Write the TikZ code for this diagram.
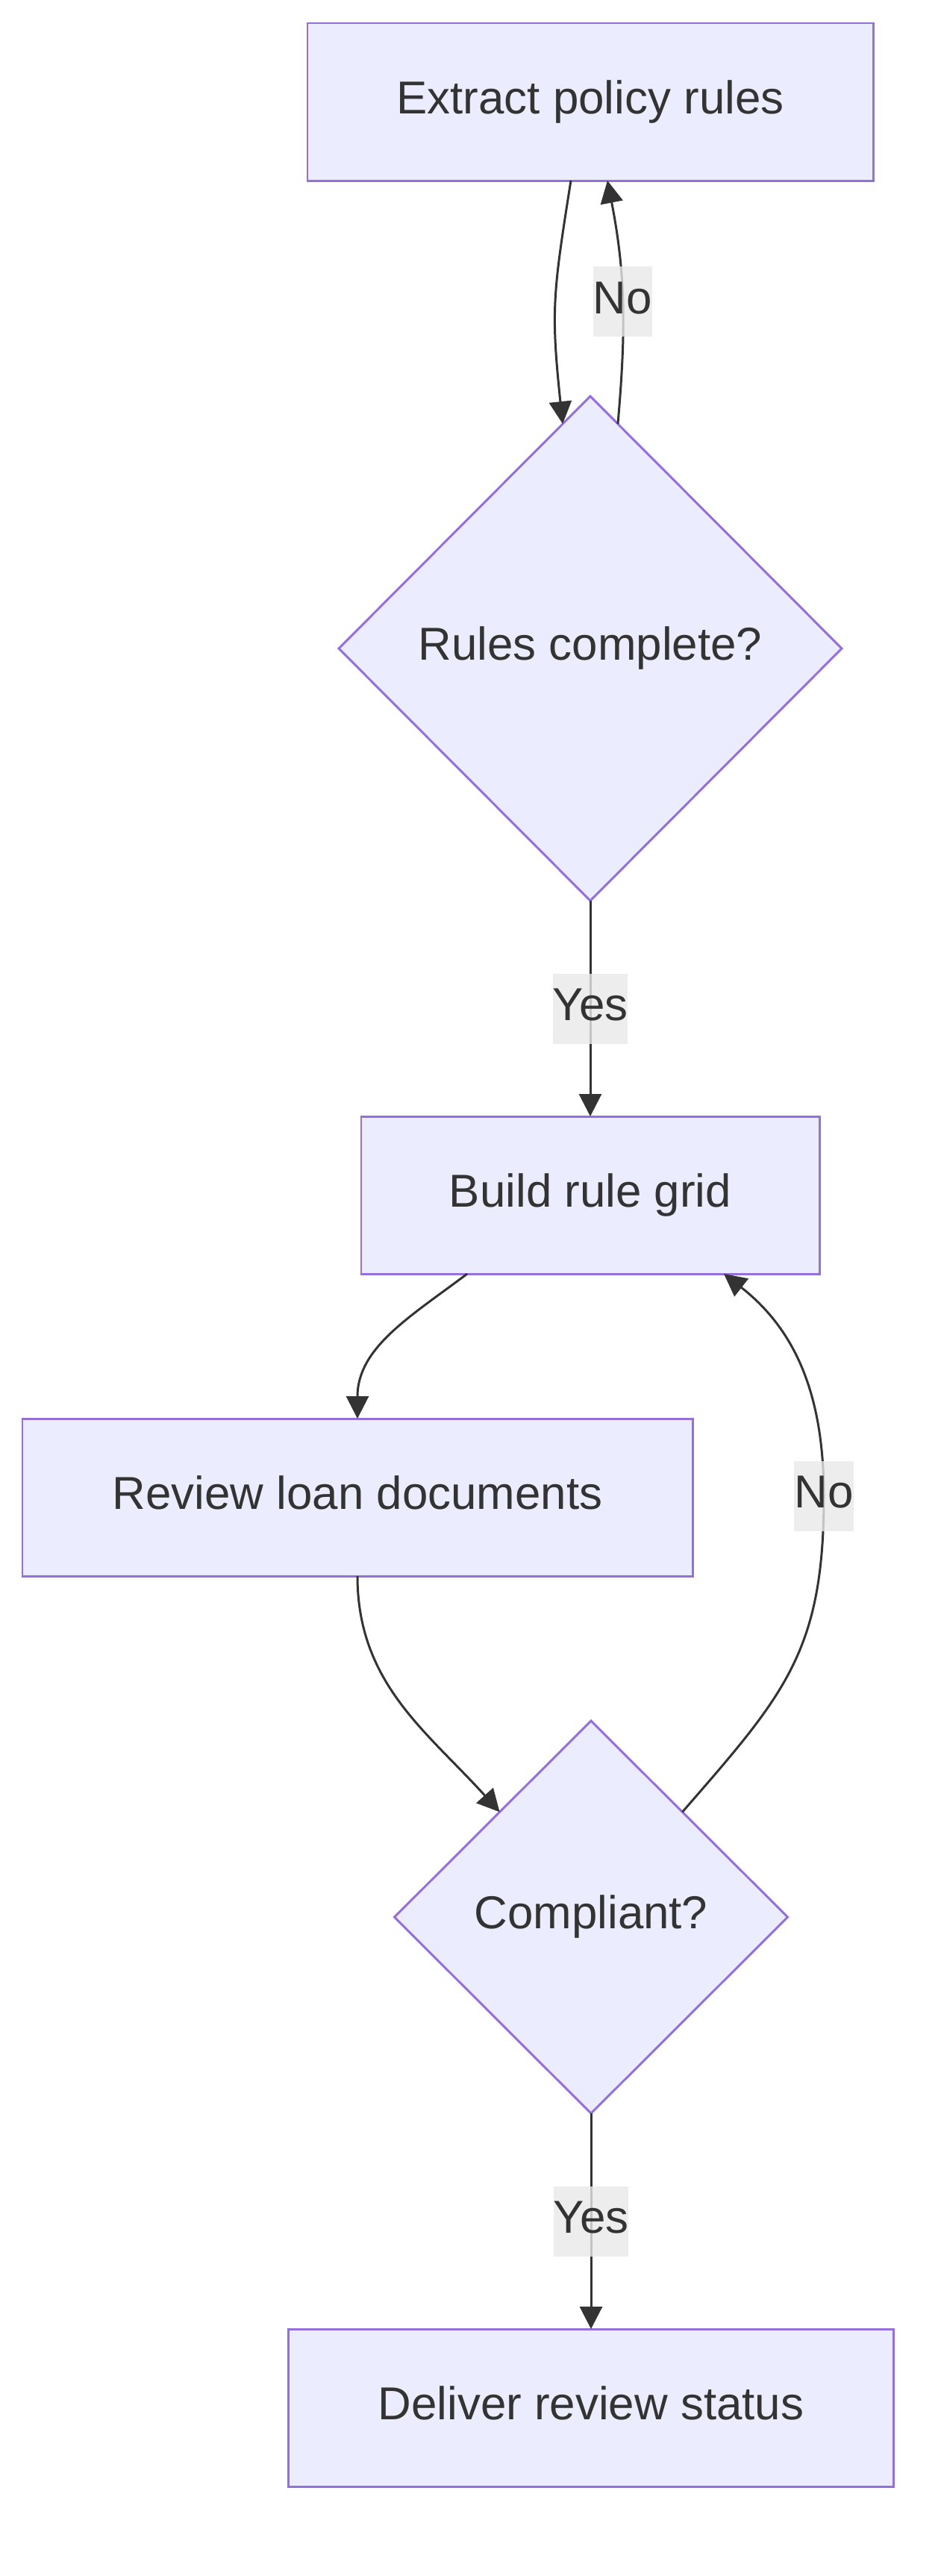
\documentclass[tikz,border=0pt]{standalone}
\usepackage{fontspec}
\setmainfont{Liberation Sans}
\usepackage{xcolor}
\usepackage{tikz}
\usetikzlibrary{arrows.meta, positioning, shapes.geometric}

\definecolor{nodefill}{HTML}{ECECFF}
\definecolor{nodeline}{HTML}{9370DB}
\definecolor{inkgray}{HTML}{333333}
\definecolor{labelgray}{HTML}{E8E8E8}

\begin{document}
\begin{tikzpicture}[
        font=\fontsize{17.6pt}{21pt}\selectfont,
        block/.style={rectangle, draw=nodeline, fill=nodefill, line width=0.85pt, outer sep=0pt, text=inkgray, text height=12.7pt, text depth=3.7pt, minimum height=2.11cm, align=center},
        decision/.style={diamond, draw=nodeline, fill=nodefill, line width=0.85pt, outer sep=0pt, text=inkgray, text height=12.7pt, text depth=3.7pt, inner sep=0pt, shape aspect=1, align=center},
        arrow/.style={-{Triangle[length=3mm, width=3mm]}, line width=0.85pt, draw=inkgray},
        lbl/.style={fill=labelgray, fill opacity=0.8, text opacity=1, text=inkgray, text height=12.7pt, text depth=3.7pt, inner sep=0pt, minimum height=0.94cm}
    ]
        \useasboundingbox (0,0) rectangle (12.6,-34.52);

        % Rules
        \node[block, minimum width=7.58cm] (extract) at (7.91,-1.365) {Extract policy rules};
        \node[decision, minimum width=6.74cm, minimum height=6.76cm, below=2.89cm of extract] (rulesok) {Rules complete?};
        \node[block, minimum width=6.14cm, below=2.89cm of rulesok] (grid) {Build rule grid};

        % Review
        \node[block, minimum width=8.98cm, below=1.94cm of grid, xshift=-3.12cm] (review) {Review loan documents};
        \node[decision, minimum width=5.27cm, minimum height=5.26cm, below=1.94cm of review, xshift=3.13cm] (compliant) {Compliant?};
        \node[block, minimum width=8.11cm, below=2.89cm of compliant] (deliver) {Deliver review status};
        \coordinate (nobend) at (11.04,-20.05);

        % Links
        \draw[arrow] ([xshift=-0.26cm]extract.south) to[out=-99, in=96, looseness=1.2] (rulesok.97);
        \draw[arrow] (rulesok.83) to[out=85, in=-79] node[lbl] {No} ([xshift=0.23cm]extract.south);
        \draw[arrow] (rulesok.south) -- node[lbl] {Yes} (grid.north);
        \draw[arrow] ([xshift=-1.65cm]grid.south) to[out=-143, in=90] (review.north);
        \draw[arrow] (review.south) to[out=-90, in=132] (compliant.131);
        \draw[arrow] (compliant.49) to[out=49, in=-90, looseness=1.15] (nobend) node[lbl] {No} to[out=90, in=-38] ([xshift=1.79cm]grid.south);
        \draw[arrow] (compliant.south) -- node[lbl] {Yes} (deliver.north);
    \end{tikzpicture}
\end{document}
